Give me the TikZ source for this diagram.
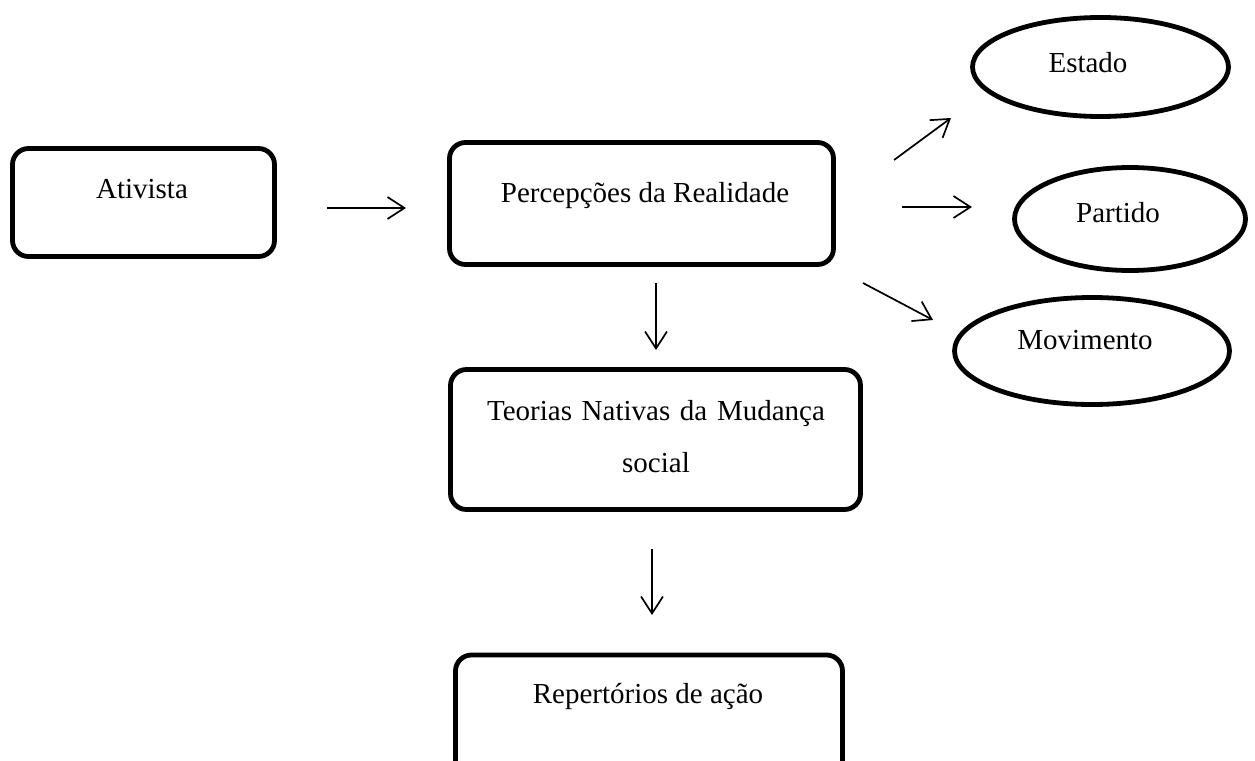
\documentclass[tikz,border=0pt]{standalone}
\usepackage{fontspec}
\setmainfont{Liberation Serif}
\usetikzlibrary{shapes.geometric,arrows.meta}
\begin{document}
\begin{tikzpicture}[x=1pt,y=-1pt,
  box/.style={draw, line width=4.8pt, rounded corners=16pt, inner sep=0pt, outer sep=0pt},
  oval/.style={draw, ellipse, line width=4.8pt, inner sep=0pt, outer sep=0pt},
  lbl/.style={anchor=base, inner sep=0pt, font=\fontsize{29}{52}\selectfont},
  arr/.style={line width=1.7pt, -{Straight Barb[length=17pt,width=22pt,line width=1.7pt]}}]
\useasboundingbox (0,0) rectangle (1255,760);
\clip (0,0) rectangle (1255,760);
% boxes
\node[box, minimum width=262pt, minimum height=108pt] (ativ) at (143.5,202.5) {};
\node[box, minimum width=384pt, minimum height=122pt] (perc) at (641.5,203.5) {};
\node[box, minimum width=410pt, minimum height=140pt] (teor) at (655.5,439.5) {};
\node[box, minimum width=387pt, minimum height=122pt] (rep) at (649,716) {};
% ellipses
\node[oval, minimum width=256pt, minimum height=99pt] (estado) at (1100.5,67) {};
\node[oval, minimum width=231pt, minimum height=103pt] (partido) at (1130,219) {};
\node[oval, minimum width=275pt, minimum height=107pt] (movim) at (1092,351) {};
% labels
\node[lbl] (ativt) at (142,198) {Ativista};
\node[lbl] (perct) at (645,202) {Percepções da Realidade};
\node[lbl, text width=410pt, align=center] (teort) at (656,420) {Teorias Nativas da Mudança\\social};
\node[lbl] (rept) at (648,703) {Repertórios de ação};
\node[lbl] (estadot) at (1088,72) {Estado};
\node[lbl] (partidot) at (1118,222) {Partido};
\node[lbl] (movimt) at (1085,349) {Movimento};
% arrow end points
\coordinate (a1s) at (327,208); \coordinate (a1e) at (406,208);
\coordinate (a2s) at (656,283); \coordinate (a2e) at (656,350);
\coordinate (a3s) at (652,549); \coordinate (a3e) at (652,615);
\coordinate (a4s) at (894,160); \coordinate (a4e) at (951,118);
\coordinate (a5s) at (902,207); \coordinate (a5e) at (972,207);
\coordinate (a6s) at (863,283); \coordinate (a6e) at (933,320);
\draw[arr] (a1s) -- (a1e);
\draw[arr] (a2s) -- (a2e);
\draw[arr] (a3s) -- (a3e);
\draw[arr] (a4s) -- (a4e);
\draw[arr] (a5s) -- (a5e);
\draw[arr] (a6s) -- (a6e);
\end{tikzpicture}
\end{document}
